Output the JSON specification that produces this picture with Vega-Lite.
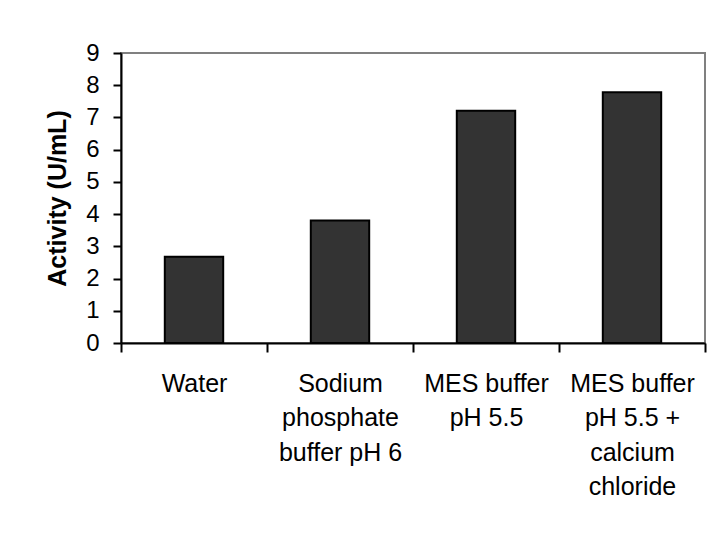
{
  "$schema": "https://vega.github.io/schema/vega-lite/v6.json",
  "width": 584,
  "height": 290,
  "autosize": "none",
  "padding": {"left": 121, "top": 53, "right": 11, "bottom": 191},
  "background": "white",
  "config": {
    "font": "Liberation Sans",
    "view": {"stroke": "#808080", "strokeWidth": 2}
  },
  "data": {
    "values": [
      {"medium": "Water", "activity": 2.68},
      {"medium": "Sodium|phosphate|buffer pH 6", "activity": 3.8},
      {"medium": "MES buffer|pH 5.5", "activity": 7.21},
      {"medium": "MES buffer|pH 5.5 +|calcium|chloride", "activity": 7.78}
    ]
  },
  "mark": {"type": "bar", "fill": "#333333", "stroke": "black", "strokeWidth": 2, "width": {"band": 0.4}},
  "encoding": {
    "x": {
      "field": "medium",
      "type": "nominal",
      "sort": null,
      "scale": {"paddingInner": 0, "paddingOuter": 0},
      "axis": {
        "title": null,
        "labelAngle": 0,
        "labelExpr": "split(datum.label, '|')",
        "labelFont": "Liberation Sans",
        "labelFontSize": 25,
        "labelColor": "black",
        "labelLineHeight": 34.5,
        "labelPadding": 19,
        "labelLimit": 0,
        "tickBand": "extent",
        "tickSize": 9,
        "tickColor": "black",
        "tickWidth": 2,
        "domainColor": "black",
        "domainWidth": 2
      }
    },
    "y": {
      "field": "activity",
      "type": "quantitative",
      "scale": {"domain": [0, 9], "nice": false},
      "axis": {
        "title": "Activity (U/mL)",
        "titleFont": "Liberation Sans",
        "titleFontSize": 25,
        "titleFontWeight": "bold",
        "titleColor": "black",
        "titlePadding": 15,
        "values": [0, 1, 2, 3, 4, 5, 6, 7, 8, 9],
        "grid": false,
        "labelFont": "Liberation Sans",
        "labelFontSize": 24,
        "labelColor": "black",
        "labelPadding": 14,
        "tickSize": 8,
        "tickColor": "black",
        "tickWidth": 2,
        "domainColor": "black",
        "domainWidth": 2
      }
    }
  }
}
